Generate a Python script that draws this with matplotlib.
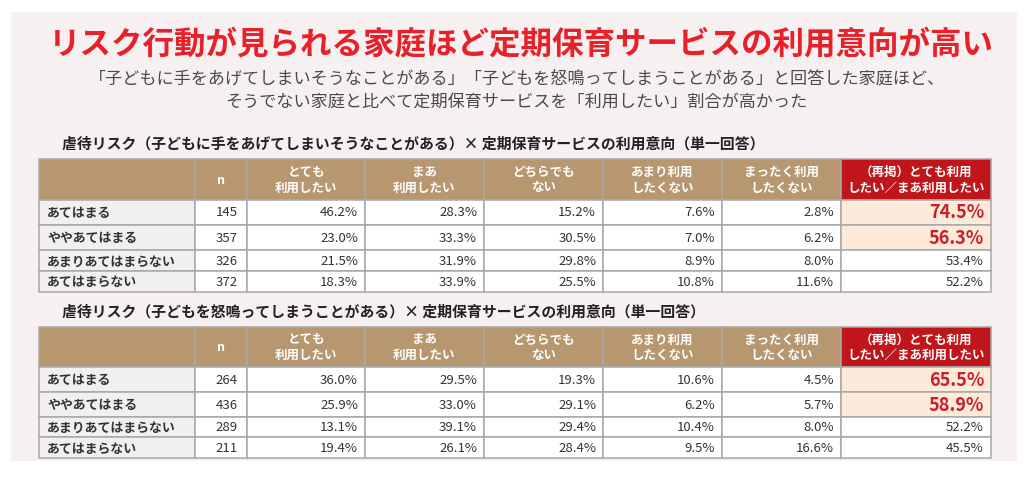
import matplotlib
matplotlib.use('Agg')
import matplotlib.pyplot as plt
from matplotlib.patches import Rectangle

plt.rcParams['font.family'] = ['Noto Sans CJK JP', 'DejaVu Sans']

# data
title = 'リスク行動が見られる家庭ほど定期保育サービスの利用意向が高い'
subtitle = ['「子どもに手をあげてしまいそうなことがある」「子どもを怒鳴ってしまうことがある」と回答した家庭ほど、',
            'そうでない家庭と比べて定期保育サービスを「利用したい」割合が高かった']
table_titles = ['虐待リスク（子どもに手をあげてしまいそうなことがある）× 定期保育サービスの利用意向（単一回答）',
                '虐待リスク（子どもを怒鳴ってしまうことがある）× 定期保育サービスの利用意向（単一回答）']
row_labels = ['あてはまる', 'ややあてはまる', 'あまりあてはまらない', 'あてはまらない']
col_labels = ['n', 'とても\n利用したい', 'まあ\n利用したい', 'どちらでも\nない',
              'あまり利用\nしたくない', 'まったく利用\nしたくない', '（再掲）とても利用\nしたい／まあ利用したい']

t1_n = [145, 357, 326, 372]
t1_very = [46.2, 23.0, 21.5, 18.3]
t1_some = [28.3, 33.3, 31.9, 33.9]
t1_neither = [15.2, 30.5, 29.8, 25.5]
t1_notmuch = [7.6, 7.0, 8.9, 10.8]
t1_notatall = [2.8, 6.2, 8.0, 11.6]
t1_total = [74.5, 56.3, 53.4, 52.2]

t2_n = [264, 436, 289, 211]
t2_very = [36.0, 25.9, 13.1, 19.4]
t2_some = [29.5, 33.0, 39.1, 26.1]
t2_neither = [19.3, 29.1, 29.4, 28.4]
t2_notmuch = [10.6, 6.2, 10.4, 9.5]
t2_notatall = [4.5, 5.7, 8.0, 16.6]
t2_total = [65.5, 58.9, 52.2, 45.5]

highlight_rows = 2  # first two rows of each table are highlighted

# layout / style
col_edges = [39, 195, 247, 365, 484, 603, 722, 841, 991]
tan = '#b6976f'
red_head = '#c0151b'
peach = '#fdeada'
label_bg = '#f1efef'
grid = '#a8a8a8'
page_bg = '#f6f1f0'
text_col = '#333333'

fig = plt.figure(figsize=(10.24, 4.81), dpi=100)
fig.patch.set_facecolor('white')
ax = fig.add_axes([0, 0, 1, 1])
ax.set_xlim(0, 1024)
ax.set_ylim(481, 0)
ax.axis('off')

bg = Rectangle((11, 13), 1006, 449, facecolor=page_bg, edgecolor='none', zorder=0)
ax.add_patch(bg)

ax.text(521, 45, title, ha='center', va='center', fontsize=22.7, fontweight='bold', color='#e8202a')
ax.text(517, 80, subtitle[0], ha='center', va='center', fontsize=12.3, color='#4a4a4a')
ax.text(516, 103, subtitle[1], ha='center', va='center', fontsize=12.3, color='#4a4a4a')


def draw_table(title_y, top, row_h, title_txt, cols):
    ax.text(62, title_y, title_txt, ha='left', va='center', fontsize=10.7, fontweight='bold', color='#222222')
    head_h = 40.5
    # header
    for j in range(len(col_edges) - 1):
        x0, x1 = col_edges[j], col_edges[j + 1]
        fc = red_head if j == len(col_edges) - 2 else tan
        ax.add_patch(Rectangle((x0, top), x1 - x0, head_h, facecolor=fc, edgecolor=grid, lw=1.1, zorder=2))
        if j > 0:
            ax.text((x0 + x1) / 2, top + head_h / 2, col_labels[j - 1], ha='center', va='center',
                    fontsize=9, fontweight='bold', color='white', linespacing=1.25, zorder=3)
    y = top + head_h
    for i, lab in enumerate(row_labels):
        h = row_h[i]
        for j in range(len(col_edges) - 1):
            x0, x1 = col_edges[j], col_edges[j + 1]
            fc = 'white'
            if j == 0:
                fc = label_bg
            elif j == len(col_edges) - 2 and i < highlight_rows:
                fc = peach
            ax.add_patch(Rectangle((x0, y), x1 - x0, h, facecolor=fc, edgecolor=grid, lw=1.1, zorder=2))
        ax.text(col_edges[0] + 8, y + h / 2, lab, ha='left', va='center', fontsize=9.3,
                fontweight='bold', color=text_col, zorder=3)
        ax.text(col_edges[2] - 9, y + h / 2, str(cols[0][i]), ha='right', va='center',
                fontsize=9.5, color=text_col, zorder=3)
        for k, vals in enumerate(cols[1:]):
            xr = col_edges[k + 3] - 7
            if k == len(cols) - 2 and i < highlight_rows:
                ax.text(xr, y + h / 2, f'{vals[i]:.1f}%', ha='right', va='center', fontsize=13,
                        fontweight='bold', color='#c8202a', zorder=3)
            else:
                ax.text(xr, y + h / 2, f'{vals[i]:.1f}%', ha='right', va='center', fontsize=9.5,
                        color=text_col, zorder=3)
        y += h


draw_table(144, 160, [25, 25.5, 21, 20.5], table_titles[0],
           [t1_n, t1_very, t1_some, t1_neither, t1_notmuch, t1_notatall, t1_total])
draw_table(312, 327.5, [25, 25, 20, 21], table_titles[1],
           [t2_n, t2_very, t2_some, t2_neither, t2_notmuch, t2_notatall, t2_total])

fig.savefig('out.png', dpi=100, facecolor='white')
